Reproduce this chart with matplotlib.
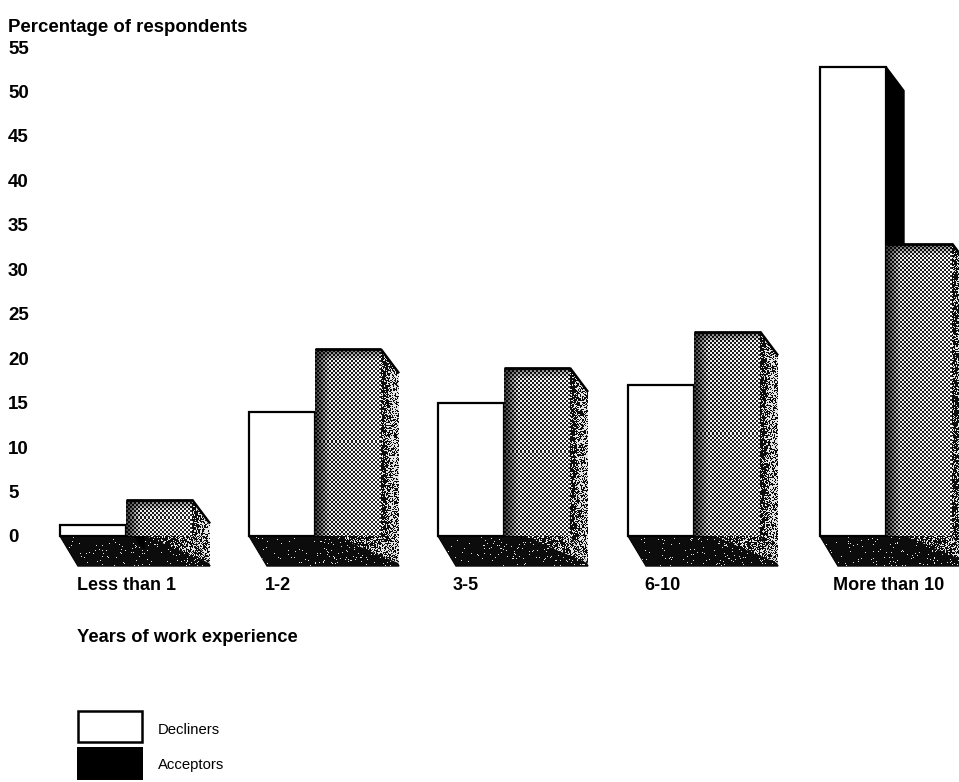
import numpy as np
from matplotlib import pyplot as plt
from matplotlib.patches import Polygon

categories = ['Less than 1', '1-2', '3-5', '6-10', 'More than 10']
decliners = [1.2, 14, 15, 17, 52.8]
acceptors = [4.1, 21, 18.9, 23, 32.9]
y_ticks = [0, 5, 10, 15, 20, 25, 30, 35, 40, 45, 50, 55]

# left edge of every group, px
group_x = [60, 249, 438, 628, 820]
label_x = [77, 265, 453, 644, 833]
bar_w = 66
depth_x = 18
px_per_unit = 8.89
depth_top = 24 / px_per_unit
depth_floor = 30 / px_per_unit
text_shift = 2 / px_per_unit

plt.rcParams['font.family'] = ['Liberation Sans', 'DejaVu Sans']

fig = plt.figure(figsize=(9.59, 7.82), dpi=100)
ax = fig.add_axes([0, 0, 1, 1])
ax.axis('off')
y_top = 536 / px_per_unit
y_bot = (536 - 782) / px_per_unit


def grain(xx, yy):
    # print grain for the scanned look, a hash of the pixel position
    s = np.sin(xx * 12.9898 + yy * 78.233) * 43758.5453
    return s - np.floor(s)


def stipple(pts, level, zorder, rough=False):
    # halftone clipped to a polygon, level(xx, yy, w, h) is the grey value
    pts = np.array(pts, dtype=float)
    x0, x1 = int(pts[:, 0].min()), int(np.ceil(pts[:, 0].max()))
    y1 = np.ceil(pts[:, 1].max() * px_per_unit) / px_per_unit
    h = int(np.ceil((y1 - pts[:, 1].min()) * px_per_unit))
    w = x1 - x0
    yy, xx = np.mgrid[0:h, 0:w]
    lev = level(xx, yy, w, h)
    if rough:
        img = (lev > grain(xx + x0, yy + y1 * 7)).astype(float) * 0.85 + 0.05
    else:
        check = ((xx // 2 + yy // 2) % 2) * 2 - 1
        amp = 0.42 * np.minimum(lev * 2, 1)
        img = np.clip(lev + amp * check, 0, 1)
    im = ax.imshow(img, extent=(x0, x1, y1 - h / px_per_unit, y1), origin='upper', aspect='auto',
                   cmap='gray', vmin=0, vmax=1, interpolation='nearest', zorder=zorder)
    im.set_clip_path(Polygon(pts, closed=True, transform=ax.transData))


def front_level(xx, yy, w, h):
    left = np.clip(xx / 14, 0, 1)
    top = np.clip(yy / 12, 0, 1)
    return 0.12 + 0.36 * left * top + 0.1 * (xx / w)


def side_level(xx, yy, w, h):
    return 0.22 + 0.33 * np.clip((xx - 3) / 6, 0, 1)


def floor_level(xx, yy, w, h):
    return 0.008 + 0.05 * xx / w


def glow_level(xx, yy, w, h):
    return 0.15 + 0.4 * xx / w


for i in range(len(categories)):
    x = group_x[i]
    xa = x + bar_w
    xr = xa + bar_w
    d = decliners[i]
    a = acceptors[i]

    # floor with the specks and the lighter wedge at the right
    floor = [(x, 0), (xr, 0), (xr + depth_x, -depth_floor), (x + depth_x, -depth_floor)]
    ax.add_patch(Polygon(floor, closed=True, fc='black', ec='black', lw=1, zorder=1))
    stipple(floor, floor_level, 2, rough=True)
    stipple([(xa + 20, 0), (xr + 2, 0), (xr + depth_x, -depth_floor + 0.3)], glow_level, 3, rough=True)

    # decliner side shows above the acceptor bar
    ax.add_patch(Polygon([(xa, d), (xa + depth_x, d - depth_top), (xa + depth_x, 0), (xa, 0)],
                         closed=True, fc='black', ec='black', lw=1, zorder=3))

    # acceptor side
    side = [(xr, a), (xr + depth_x, a - depth_top), (xr + depth_x, -depth_floor + 0.3), (xr, 0)]
    ax.add_patch(Polygon(side, closed=True, fc='#555555', ec='none', zorder=4))
    stipple(side, side_level, 5, rough=True)
    ax.plot([xr, xr + depth_x], [a, a - depth_top], color='black', lw=1.8,
            solid_capstyle='butt', zorder=6)

    # fronts
    ax.bar(x, d, bar_w, align='edge', fc='white', ec='black', lw=1.6, zorder=6)
    ax.bar(xa, a, bar_w, align='edge', fc='#808080', ec='none', zorder=6)
    stipple([(xa, a), (xr, a), (xr, 0), (xa, 0)], front_level, 7)
    ax.plot([xa, xr], [a, a], color='black', lw=2, solid_capstyle='butt', zorder=8)

    ax.text(label_x[i], -50 / px_per_unit, categories[i], fontsize=13, fontweight='bold',
            ha='left', va='center', zorder=9)

for t in y_ticks:
    ax.text(8, t - text_shift, str(t), fontsize=13.5, fontweight='bold', ha='left', va='center')

ax.text(8, (536 - 28) / px_per_unit, 'Percentage of respondents', fontsize=13.4, fontweight='bold',
        ha='left', va='center')
ax.text(77, (536 - 638) / px_per_unit, 'Years of work experience', fontsize=13.2, fontweight='bold',
        ha='left', va='center')

# legend
ax.add_patch(Polygon([(78, (536 - 711) / px_per_unit), (142, (536 - 711) / px_per_unit),
                      (142, (536 - 742) / px_per_unit), (78, (536 - 742) / px_per_unit)],
                     closed=True, fc='white', ec='black', lw=1.8))
ax.add_patch(Polygon([(77, (536 - 747) / px_per_unit), (143, (536 - 747) / px_per_unit),
                      (143, (536 - 780) / px_per_unit), (77, (536 - 780) / px_per_unit)],
                     closed=True, fc='black', ec='none'))
ax.text(158, (536 - 730) / px_per_unit, 'Decliners', fontsize=10.7, ha='left', va='center')
ax.text(158, (536 - 765) / px_per_unit, 'Acceptors', fontsize=10.7, ha='left', va='center')

ax.set_xlim(0, 959)
ax.set_ylim(y_bot, y_top)
fig.savefig('out.png', dpi=100)
